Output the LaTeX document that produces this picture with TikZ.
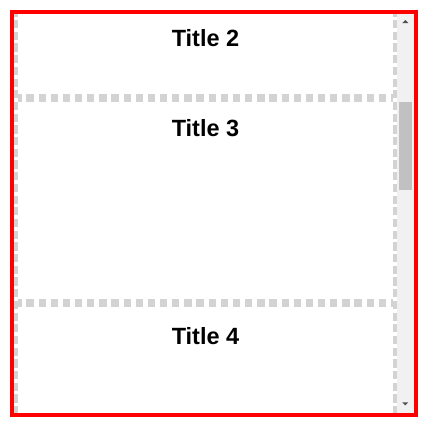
\documentclass[tikz,border=0pt]{standalone}
\usepackage{fontspec}
\setmainfont{Liberation Sans}
\definecolor{dashgray}{HTML}{D3D3D3}
\definecolor{trackc}{HTML}{F1F1F1}
\definecolor{thumbc}{HTML}{C1C1C1}
\definecolor{arrowc}{HTML}{505050}
\definecolor{framered}{HTML}{FF0000}
\begin{document}
\begin{tikzpicture}[x=1pt,y=-1pt,
  vdash/.style={draw=dashgray,line width=4pt,dash pattern=on 8.2pt off 3.5pt,dash phase=5.2pt},
  hdash/.style={draw=dashgray,line width=8pt,dash pattern=on 7.3pt off 4.85pt,dash phase=3.8pt},
  title/.style={anchor=base,inner sep=0pt,font=\bfseries\fontsize{23.5}{27}\selectfont,text=black},
  frame/.style={draw=framered,line width=4pt}]
\useasboundingbox (0,0) rectangle (429,429);
\fill[white] (0,0) rectangle (429,429);
% scrollbar
\fill[trackc] (397,13.5) rectangle (414,412.5);
\fill[thumbc] (399,101.7) rectangle (412,190);
\fill[arrowc] (402.3,23) -- (408.3,23) -- (405.3,20) -- cycle;
\fill[arrowc] (402.3,402.3) -- (408.3,402.3) -- (405.3,405.3) -- cycle;
% dashed box borders
\draw[vdash] (16,13.5) -- (16,412.5);
\draw[vdash] (395,13.5) -- (395,412.5);
\draw[hdash] (18,98) -- (393,98);
\draw[hdash] (18,303) -- (393,303);
% titles
\node[title] (t2) at (205.5,46.7) {Title 2};
\node[title] (t3) at (205.5,136) {Title 3};
\node[title] (t4) at (205.5,344) {Title 4};
% outer frame
\draw[frame] (12,11.5) rectangle (416,414.5);
\end{tikzpicture}
\end{document}
